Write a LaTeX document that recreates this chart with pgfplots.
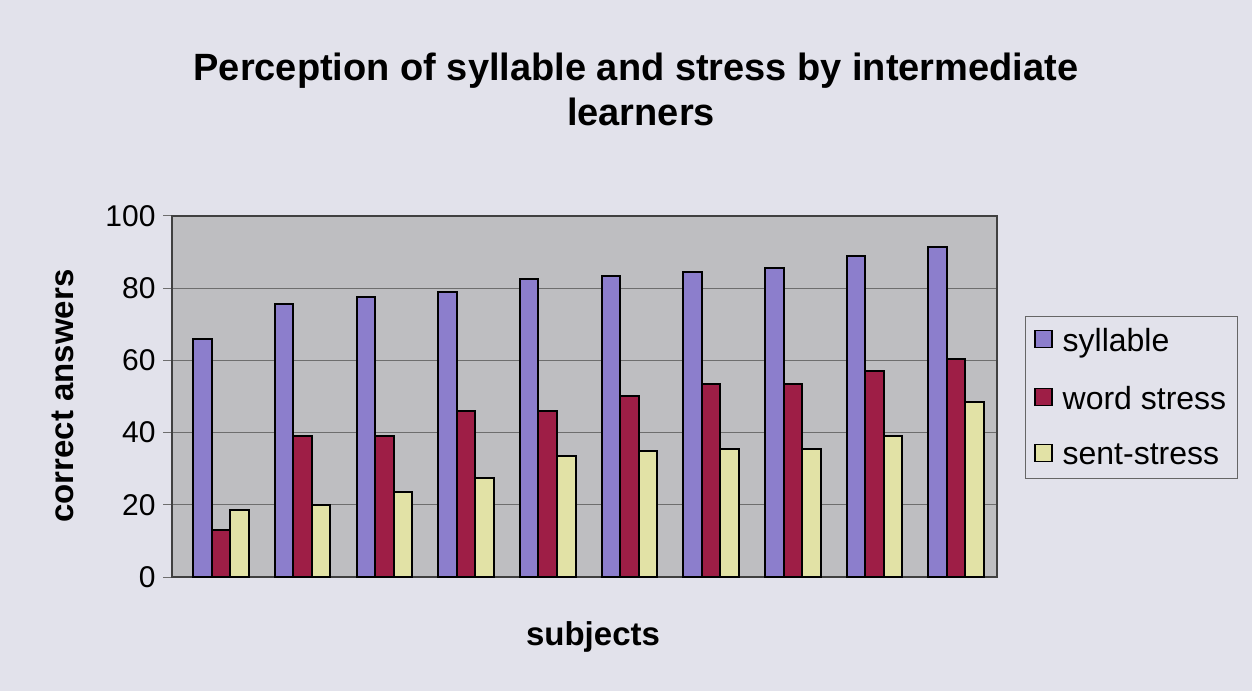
\documentclass[border=0pt]{standalone}
\usepackage{pgfplots}
\pgfplotsset{compat=1.18}
\usepackage{fontspec}
\setmainfont{Liberation Sans}
\definecolor{pagebg}{RGB}{226,226,235}
\definecolor{plotbg}{RGB}{190,190,193}
\definecolor{csyl}{RGB}{140,126,204}
\definecolor{cword}{RGB}{158,30,70}
\definecolor{csent}{RGB}{226,226,166}
\definecolor{gridc}{RGB}{110,110,110}
\begin{document}
\begin{tikzpicture}[x=1pt,y=1pt]
\path[fill=pagebg] (0,0) rectangle (1252,691);
\node[anchor=base,font=\fontsize{38}{45}\selectfont\bfseries] at (636,610) {Perception of syllable and stress by intermediate};
\node[anchor=base,font=\fontsize{38}{45}\selectfont\bfseries] at (641,565) {learners};
\node[anchor=base,rotate=90,font=\fontsize{33}{40}\selectfont\bfseries] at (73,295) {correct answers};
\node[anchor=base,font=\fontsize{33}{40}\selectfont\bfseries] at (593,46) {subjects};
\begin{axis}[
  at={(172pt,114pt)}, anchor=south west,
  scale only axis, width=825pt, height=361pt,
  xmin=-0.6, xmax=9.5, ymin=0, ymax=100,
  xtick=\empty,
  ytick={0,20,40,60,80,100},
  ytick pos=left,
  /pgf/number format/assume math mode=true,
  yticklabel style={font=\fontsize{30}{36}\selectfont, xshift=-4pt},
  tick align=outside, major tick length=9pt,
  tick style={gridc, line width=1pt},
  ymajorgrids, grid style={gridc, line width=1pt},
  axis background/.style={fill=plotbg},
  axis line style={black!75, line width=1.3pt},
  ybar=0pt, bar width=18.5pt,
  legend style={at={(1.034,0.723)}, anchor=north west, fill=pagebg, draw=black!60, line width=0.8pt,
    font=\fontsize{32}{38}\selectfont, row sep=29pt, inner xsep=9pt, inner ysep=10pt,
    legend cell align=left,
    /tikz/every odd column/.append style={column sep=8pt}},
  legend image code/.code={\draw[#1, draw=black, line width=1.2pt] (0pt,-7pt) rectangle (17pt,10pt);},
  every axis plot/.append style={draw=black, line width=2pt},
]
\addplot[fill=csyl] coordinates {(0,66) (1,75.5) (2,77.5) (3,79) (4,82.5) (5,83.5) (6,84.5) (7,85.5) (8,89) (9,91.5)};
\addplot[fill=cword] coordinates {(0,13) (1,39) (2,39) (3,46) (4,46) (5,50) (6,53.5) (7,53.5) (8,57) (9,60.5)};
\addplot[fill=csent] coordinates {(0,18.5) (1,20) (2,23.5) (3,27.5) (4,33.5) (5,35) (6,35.5) (7,35.5) (8,39) (9,48.5)};
\legend{syllable, word stress, sent-stress}
\end{axis}
\end{tikzpicture}
\end{document}
